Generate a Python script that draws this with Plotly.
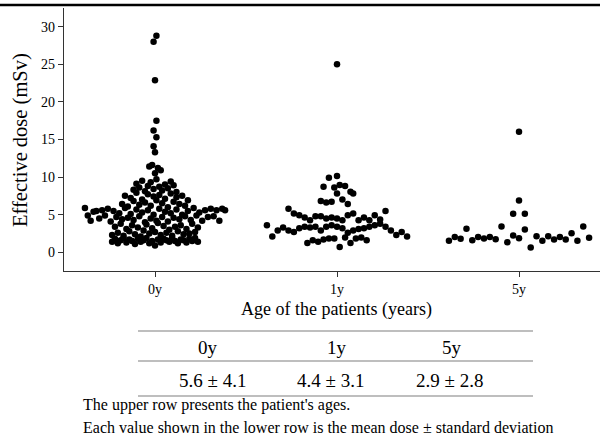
import numpy as np
import plotly.graph_objects as go
from collections import Counter, defaultdict

# ---------------- data ----------------
categories = ["0y", "1y", "5y"]

dose_0y = [
    # ~0-2
    1.4, 1.8, 1.2, 1.6, 1.9, 1.3, 1.7, 1.5, 1.1, 1.8, 1.4, 1.6, 1.9, 1.2, 1.5, 0.9,
    1.7, 1.3, 1.8, 1.6, 1.4, 1.9, 1.5, 1.2, 1.7, 1.6, 1.3, 1.8, 1.5, 1.9, 1.4,
    # ~2-4
    2.3, 3.4, 2.6, 3.8, 2.2, 3.1, 2.8, 3.6, 2.4, 3.3, 2.1, 2.9, 3.7, 2.5, 3.2, 2.7,
    3.9, 2.3, 3.5, 2.6, 3.0, 2.2, 3.4, 2.8, 3.6, 2.4, 3.1, 2.5, 3.8, 2.7, 3.3,
    # ~4-6
    5.9, 4.9, 4.2, 5.4, 5.5, 4.5, 5.6, 4.9, 5.8, 4.1, 5.5, 4.7, 5.2, 4.4, 5.9, 4.6,
    5.1, 4.3, 5.7, 4.8, 5.3, 4.0, 5.6, 4.5, 5.0, 4.2, 5.8, 4.7, 5.4, 4.1, 5.2, 4.6,
    5.7, 4.4, 5.0, 4.8, 5.5, 4.3, 5.9, 4.9, 5.3, 4.2, 5.6, 4.7, 5.8, 4.8, 5.6, 4.2,
    5.8, 5.6,
    # ~6-8
    6.4, 7.5, 6.1, 7.2, 6.8, 7.9, 6.3, 7.0, 6.6, 7.7, 6.2, 7.4, 6.9, 7.6, 6.5, 7.1,
    6.0, 7.8, 6.7, 7.3, 6.4, 7.5, 6.2, 6.9,
    # ~8-10
    8.3, 9.1, 8.6, 9.5, 8.1, 8.8, 9.3, 8.4, 9.7, 8.7, 8.2, 9.0, 8.5, 9.4, 8.9, 8.0,
    # high values
    11.4, 11.6, 10.5, 11.2, 10.9, 13.3, 14.1, 15.3, 16.2, 17.5, 22.9, 28.0, 28.8,
]

dose_1y = [
    # ~0-2
    1.24, 1.6, 1.38, 1.69, 1.82, 1.82, 0.71, 1.96, 1.24, 1.82, 1.95, 1.6,
    # ~2-4
    3.6, 2.1, 2.9, 3.3, 2.9, 2.7, 3.2, 3.4, 3.3, 3.4, 2.9, 3.4, 3.6, 3.4, 3.2, 2.6,
    2.9, 3.1, 3.2, 3.4, 3.6, 3.8, 3.4, 2.9, 2.3, 2.7, 2.1,
    # ~4-6
    5.78, 5.15, 4.93, 4.62, 4.27, 4.8, 4.8, 4.49, 4.62, 4.49, 4.27, 4.93, 5.15,
    4.27, 4.62, 4.27, 4.93, 4.36, 5.47,
    # ~6-8
    6.8, 6.6, 6.7, 7.8, 7.0, 6.4, 7.8,
    # ~8-10
    8.71, 9.91, 8.62, 8.93, 8.8, 8.04,
    # high values
    10.13, 25.0,
]

dose_5y = [
    1.51, 2.04, 1.78, 3.11, 1.60, 2.04, 1.82, 2.04, 1.73, 3.42, 1.33, 2.22, 1.87,
    3.02, 0.62, 2.13, 1.51, 2.13, 1.69, 2.04, 1.69, 2.53, 1.51, 3.42, 1.91,
    5.11, 6.89, 5.11, 16.04,
]

summary_labels = ["5.6 \u00b1 4.1", "4.4 \u00b1 3.1", "2.9 \u00b1 2.8"]

groups = [dose_0y, dose_1y, dose_5y]
bin_widths = [2.0, 2.0, 4.0]   # value bins used to spread the dots sideways
SPREAD = 0.77                   # widest row spans this many category units


def distribute(values, bin_width, spread):
    """Column-scatter 'distribution' offsets: points in the same value bin
    are spread evenly side by side (in data order), centred on the category."""
    vals = np.asarray(values, dtype=float)
    bins = np.floor(vals / bin_width).astype(int)
    counts = Counter(bins.tolist())
    nmax = max(counts.values())
    step = spread / (nmax - 1)
    seen = defaultdict(int)
    off = np.zeros(len(vals))
    for i, b in enumerate(bins.tolist()):
        k = seen[b]
        seen[b] += 1
        off[i] = (k - (counts[b] - 1) / 2.0) * step
    return off


# ---------------- figure ----------------
W, H = 600, 435
PL, PR, PT, PB = 64, 600, 8, 271   # plot area in pixels


def px_x(px):
    return (px - PL) / (PR - PL)


def px_y(py):
    return (PB - py) / (PB - PT)


FONT = "Liberation Serif, Times New Roman, serif"

fig = go.Figure()
for gi, vals in enumerate(groups):
    xs = gi + distribute(vals, bin_widths[gi], SPREAD)
    fig.add_trace(go.Scatter(
        x=xs, y=vals, mode="markers",
        marker=dict(size=6.5, color="black", line=dict(width=0)),
        showlegend=False, name=categories[gi],
    ))

fig.update_layout(
    width=W, height=H,
    margin=dict(l=PL, r=W - PR, t=PT, b=H - PB),
    paper_bgcolor="white", plot_bgcolor="white",
    font=dict(family=FONT, color="black"),
    xaxis=dict(
        range=[-0.5, 2.445], tickmode="array", tickvals=[0, 1, 2],
        ticktext=categories, ticks="outside", ticklen=5, tickcolor="#333",
        showline=True, linecolor="#333", linewidth=1.2, showgrid=False,
        zeroline=False, tickfont=dict(size=14, family=FONT),
    ),
    yaxis=dict(
        range=[-2.5, 32.5], tickmode="array", tickvals=[0, 5, 10, 15, 20, 25, 30],
        ticks="outside", ticklen=5, tickcolor="#333",
        showline=True, linecolor="#333", linewidth=1.2, showgrid=False,
        zeroline=False, tickfont=dict(size=14, family=FONT),
    ),
)

annotations = []
# axis titles
annotations.append(dict(text="Age of the patients (years)", x=px_x(336), y=px_y(309),
                        xref="paper", yref="paper", showarrow=False,
                        font=dict(size=18, family=FONT), xanchor="center", yanchor="middle"))
annotations.append(dict(text="Effective dose (mSv)", x=px_x(20), y=px_y(140),
                        xref="paper", yref="paper", showarrow=False, textangle=-90,
                        font=dict(size=20.5, family=FONT), xanchor="center", yanchor="middle"))
# summary table
col_x_head = [208, 337, 452]
col_x_val = [212, 330, 449]
for i in range(3):
    annotations.append(dict(text=categories[i], x=px_x(col_x_head[i]), y=px_y(347),
                            xref="paper", yref="paper", showarrow=False,
                            font=dict(size=19, family=FONT), xanchor="center", yanchor="middle"))
    annotations.append(dict(text=summary_labels[i], x=px_x(col_x_val[i]), y=px_y(380),
                            xref="paper", yref="paper", showarrow=False,
                            font=dict(size=19, family=FONT), xanchor="center", yanchor="middle"))
annotations.append(dict(text="The upper row presents the patient's ages.", x=px_x(81), y=px_y(405),
                        xref="paper", yref="paper", showarrow=False,
                        font=dict(size=16, family=FONT), xanchor="left", yanchor="middle"))
annotations.append(dict(text="Each value shown in the lower row is the mean dose \u00b1 standard deviation",
                        x=px_x(81), y=px_y(427), xref="paper", yref="paper", showarrow=False,
                        font=dict(size=16, family=FONT), xanchor="left", yanchor="middle"))
fig.update_layout(annotations=annotations)

shapes = [dict(type="line", xref="paper", yref="paper", x0=px_x(0), x1=px_x(600),
               y0=px_y(5), y1=px_y(5), line=dict(color="black", width=2.5))]
for yy in (331, 361, 396):
    shapes.append(dict(type="line", xref="paper", yref="paper", x0=px_x(138), x1=px_x(533),
                       y0=px_y(yy), y1=px_y(yy), line=dict(color="#a8a8a8", width=1.5)))
fig.update_layout(shapes=shapes)

fig.write_html(
    "out.html",
    config={"displayModeBar": False},
    post_script="document.body.style.margin='0';document.body.style.overflow='hidden';",
)
